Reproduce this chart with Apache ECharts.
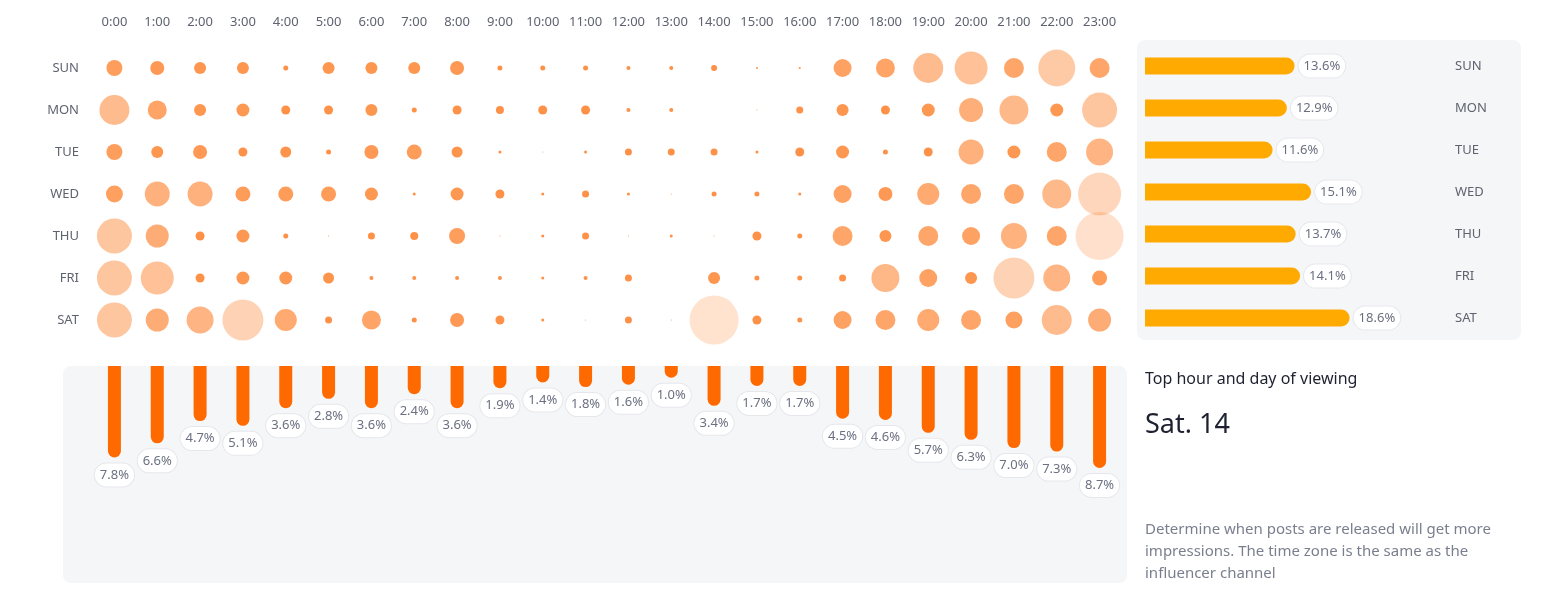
<!DOCTYPE html>
<html><head><meta charset="utf-8">
<script src="https://cdn.jsdelivr.net/npm/echarts@6/dist/echarts.min.js"></script>
<style>html,body{margin:0;padding:0;background:#fff}#c{width:1542px;height:599px}</style>
</head><body><div id="c"></div>
<script>
const hours = ['0:00','1:00','2:00','3:00','4:00','5:00','6:00','7:00','8:00','9:00','10:00','11:00','12:00','13:00','14:00','15:00','16:00','17:00','18:00','19:00','20:00','21:00','22:00','23:00'];
const days = ['SUN','MON','TUE','WED','THU','FRI','SAT'];
// bubble magnitudes per day (rows) x hour (cols)
const SUN = [16,14,12,12,5,12,12,12,14,5,5,5,4,4,6,2,2,18,19,30,33,20,37,20];
const MON = [30,19,12,13,9,9,12,5,9,8,9,9,4,4,0,1,7,12,9,13,24,29,13,35];
const TUE = [16,12,14,9,11,5,14,15,11,3,1,3,7,7,7,3,9,13,5,9,25,13,20,27];
const WED = [17,25,25,15,15,15,13,3,13,9,3,7,3,1,5,5,3,18,14,22,20,20,29,43];
const THU = [35,23,9,13,5,1,7,8,16,1,3,7,1,3,1,9,5,20,12,20,18,26,20,48];
const FRI = [35,33,9,13,13,11,4,4,4,4,3,4,7,0,12,5,5,7,28,18,12,41,27,15];
const SAT = [35,23,27,41,22,7,19,5,14,9,3,1,7,1,49,9,5,18,20,22,20,17,30,23];
const hourPct = [7.8,6.6,4.7,5.1,3.6,2.8,3.6,2.4,3.6,1.9,1.4,1.8,1.6,1.0,3.4,1.7,1.7,4.5,4.6,5.7,6.3,7.0,7.3,8.7];
const dayPct = [13.6,12.9,11.6,15.1,13.7,14.1,18.6];

const rows = [SUN,MON,TUE,WED,THU,FRI,SAT];
const scatterData = [];
rows.forEach((r,di)=>r.forEach((v,hi)=>scatterData.push([hi,di,v])));
const FONT = 'Noto Sans';
const pill = {backgroundColor:'#fff',borderColor:'#e6e7eb',borderWidth:1,borderRadius:12,padding:[5,5],color:'#6b7080',fontSize:13,fontFamily:FONT};

const chart = echarts.init(document.getElementById('c'));
chart.setOption({
  animation:false,
  graphic:[
    {type:'rect',z:-10,shape:{x:63,y:366,width:1064,height:217,r:8},style:{fill:'#f5f6f8'}},
    {type:'rect',z:-10,shape:{x:1137,y:40,width:384,height:300,r:8},style:{fill:'#f5f6f8'}},
    {type:'text',left:1145,top:371,style:{text:'Top hour and day of viewing',fontSize:16,fill:'#1d2130',fontFamily:FONT}},
    {type:'text',left:1145,top:412,style:{text:'Sat. 14',fontSize:27,fill:'#1d2130',fontFamily:FONT}},
    {type:'text',left:1145,top:519,style:{text:'Determine when posts are released will get more\nimpressions. The time zone is the same as the\ninfluencer channel',fontSize:15,lineHeight:22,fill:'#7a7f8e',fontFamily:FONT}}
  ],
  grid:[
    {left:93,width:1028,top:47,height:294},
    {left:93,width:1028,top:366,height:211},
    {left:1145,width:330,top:45,height:294}
  ],
  xAxis:[
    {gridIndex:0,type:'category',data:hours,position:'top',axisLine:{show:false},axisTick:{show:false},
     axisLabel:{color:'#5f6370',fontSize:13,fontFamily:FONT,margin:18,interval:0}},
    {gridIndex:1,type:'category',data:hours,show:false},
    {gridIndex:2,type:'value',max:30,show:false}
  ],
  yAxis:[
    {gridIndex:0,type:'category',data:days,inverse:true,axisLine:{show:false},axisTick:{show:false},splitLine:{show:false},
     axisLabel:{color:'#5f6370',fontSize:13,fontFamily:FONT,margin:14}},
    {gridIndex:1,type:'value',inverse:true,min:0,max:18,show:false},
    {gridIndex:2,type:'category',data:days,inverse:true,position:'right',offset:-28,axisLine:{show:false},axisTick:{show:false},
     axisLabel:{color:'#5f6370',fontSize:13,fontFamily:FONT,margin:8,align:'left'}}
  ],
  series:[
    {type:'scatter',xAxisIndex:0,yAxisIndex:0,data:scatterData,
     symbolSize:d=>d[2],
     itemStyle:{color:p=>{const s=p.data[2];const o=Math.max(0.22,Math.min(1,1-(s-10)*0.019));return 'rgba(253,118,26,'+o.toFixed(3)+')';}}},
    {type:'bar',xAxisIndex:1,yAxisIndex:1,data:hourPct,barWidth:13,
     itemStyle:{color:'#ff6a00',borderRadius:[0,0,7,7]},
     label:Object.assign({show:true,position:'bottom',distance:6,formatter:p=>p.value.toFixed(1)+'%'},pill)},
    {type:'bar',xAxisIndex:2,yAxisIndex:2,data:dayPct,barWidth:17,
     itemStyle:{color:'#ffaa00',borderRadius:[0,9,9,0]},
     label:Object.assign({show:true,position:'right',distance:4,formatter:p=>p.value.toFixed(1)+'%'},pill)}
  ]
});
</script></body></html>
